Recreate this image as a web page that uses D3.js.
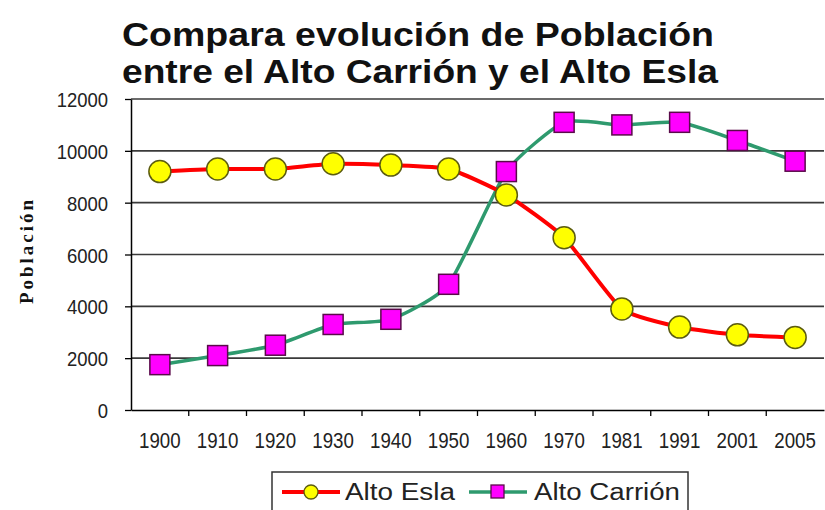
<!DOCTYPE html>
<html><head><meta charset="utf-8">
<script src="https://cdn.jsdelivr.net/npm/d3@7"></script>
<style>body{margin:0;background:#fff}svg{display:block}</style>
</head><body>
<svg id="c" width="825" height="510"></svg>
<script>
const years = ["1900","1910","1920","1930","1940","1950","1960","1970","1981","1991","2001","2005"];
const altoEsla = [9200,9300,9300,9500,9450,9300,8300,6650,3900,3200,2900,2800];
const altoCarrion = [1750,2100,2500,3300,3500,4850,9200,11100,11000,11100,10400,9600];
const yTicks = [0,2000,4000,6000,8000,10000,12000];
const titleLines = ["Compara evolución de Población","entre el Alto Carrión y el Alto Esla"];
const seriesNames = ["Alto Esla","Alto Carrión"];

const svg = d3.select("#c");
const L = 131, R = 824, T = 99, B = 410;
const x = d3.scaleBand().domain(years).range([L, R]);
const y = d3.scaleLinear().domain([0,12000]).range([B, T]);
const font = "Arial, 'Liberation Sans', sans-serif";

// title
svg.append("g").selectAll("text").data(titleLines).join("text")
  .attr("x", 122).attr("y", (d,i)=>46+i*37)
  .attr("font-family", font).attr("font-weight","bold").attr("font-size", 33)
  .attr("fill","#111")
  .attr("textLength",(d,i)=>i===0?592:596).attr("lengthAdjust","spacingAndGlyphs")
  .text(d=>d);

// gridlines
svg.append("g").selectAll("line").data(yTicks.filter(d=>d>0)).join("line")
  .attr("x1", L).attr("x2", R).attr("y1", d=>y(d)).attr("y2", d=>y(d))
  .attr("stroke","#3a3a3a").attr("stroke-width",1.6);

// y axis
const ya = svg.append("g").attr("transform",`translate(${L},0)`)
  .call(d3.axisLeft(y).tickValues(yTicks).tickSize(6).tickSizeOuter(0).tickFormat(d3.format("d")));
ya.select(".domain").attr("stroke","#000").attr("stroke-width",1.5);
ya.selectAll(".tick line").attr("stroke","#000").attr("stroke-width",1.3);
ya.selectAll(".tick text").attr("font-family",font).attr("font-size",21).attr("fill","#222")
  .attr("x",0).attr("dy","0.36em")
  .attr("transform","translate(-23,0) scale(0.88,1)");

// x axis
const xa = svg.append("g").attr("transform",`translate(0,${B})`)
  .call(d3.axisBottom(x).tickSize(0).tickSizeOuter(0));
xa.select(".domain").attr("stroke","#000").attr("stroke-width",1.5);
xa.selectAll(".tick text").attr("font-family",font).attr("font-size",22).attr("fill","#222")
  .attr("y",0).attr("dy","0").attr("transform","translate(0,38) scale(0.85,1)");
// tick marks at band boundaries
svg.append("g").selectAll("line").data(years.slice(1)).join("line")
  .attr("x1", d=>x(d)).attr("x2", d=>x(d)).attr("y1", B).attr("y2", B+6)
  .attr("stroke","#000").attr("stroke-width",1.3);

// y label
svg.append("text").attr("transform","translate(33,252) rotate(-90)")
  .attr("text-anchor","middle").attr("font-family","'Liberation Serif','Times New Roman',serif")
  .attr("font-weight","bold").attr("font-size",19).attr("fill","#111")
  .attr("textLength",104).attr("lengthAdjust","spacing")
  .text("Población");

const cx = d => x(d) + x.bandwidth()/2;
const line = d3.line().x(d=>cx(d.year)).y(d=>y(d.v)).curve(d3.curveCardinal.tension(0.45));
const esla = years.map((yr,i)=>({year:yr, v:altoEsla[i]}));
const carr = years.map((yr,i)=>({year:yr, v:altoCarrion[i]}));

svg.append("path").datum(carr).attr("d",line).attr("fill","none").attr("stroke","#2e9a6e").attr("stroke-width",3.5);
svg.append("path").datum(esla).attr("d",line).attr("fill","none").attr("stroke","#ff0000").attr("stroke-width",4);

svg.append("g").selectAll("rect").data(carr).join("rect")
  .attr("x", d=>cx(d.year)-10).attr("y", d=>y(d.v)-10).attr("width",20).attr("height",20)
  .attr("fill","#ff00ff").attr("stroke","#5a0a4a").attr("stroke-width",1.5);
svg.append("g").selectAll("circle").data(esla).join("circle")
  .attr("cx", d=>cx(d.year)).attr("cy", d=>y(d.v)).attr("r",11)
  .attr("fill","#ffff00").attr("stroke","#5c5c10").attr("stroke-width",1.5);

// legend
const lg = svg.append("g");
lg.append("rect").attr("x",272).attr("y",472).attr("width",416).attr("height",44)
  .attr("fill","#fff").attr("stroke","#333").attr("stroke-width",1.5);
// item 1
lg.append("line").attr("x1",282).attr("x2",340).attr("y1",492).attr("y2",492).attr("stroke","#ff0000").attr("stroke-width",4);
lg.append("circle").attr("cx",311).attr("cy",492).attr("r",7).attr("fill","#ffff00").attr("stroke","#5c5c10").attr("stroke-width",1.3);
lg.append("text").attr("x",345).attr("y",500).attr("font-family",font).attr("font-size",23).attr("fill","#222")
  .attr("textLength",110).attr("lengthAdjust","spacingAndGlyphs").text(seriesNames[0]);
// item 2
lg.append("line").attr("x1",469).attr("x2",527).attr("y1",492).attr("y2",492).attr("stroke","#2e9a6e").attr("stroke-width",3.5);
lg.append("rect").attr("x",491).attr("y",485).attr("width",13).attr("height",13).attr("fill","#ff00ff").attr("stroke","#5a0a4a").attr("stroke-width",1.3);
lg.append("text").attr("x",534).attr("y",500).attr("font-family",font).attr("font-size",23).attr("fill","#222")
  .attr("textLength",146).attr("lengthAdjust","spacingAndGlyphs").text(seriesNames[1]);
</script>
</body></html>
